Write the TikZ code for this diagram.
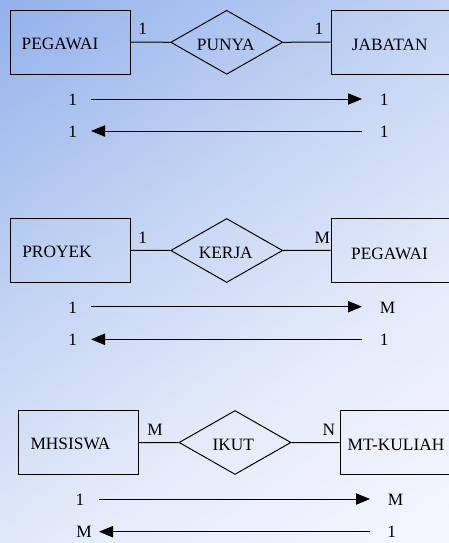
\documentclass[tikz,border=0pt]{standalone}
\usepackage{fontspec}
\setmainfont{Liberation Serif}
\usetikzlibrary{shapes.geometric,arrows.meta}

% background gradient, dark blue at the top left to almost white at the bottom right
\definecolor{bgA}{HTML}{92B1EB}
\definecolor{bgB}{HTML}{C2D3F3}
\definecolor{bgC}{HTML}{E0E8F9}
\definecolor{bgD}{HTML}{E6EDFB}
\definecolor{bgE}{HTML}{F4F7FD}
\pgfdeclareverticalshading{bgshade}{100bp}{color(0bp)=(bgE); color(25bp)=(bgE);
  color(39.19bp)=(bgD); color(43.32bp)=(bgC); color(56.67bp)=(bgB);
  color(75bp)=(bgA); color(100bp)=(bgA)}

\tikzset{
  entity/.style={draw, line width=0.75pt, rectangle, minimum width=90pt,
    minimum height=48pt, inner sep=0pt},
  relation/.style={draw, line width=0.75pt, diamond, minimum width=84pt,
    minimum height=48pt, inner sep=0pt},
  lbl/.style={font=\fontsize{13}{15}\selectfont, inner sep=0pt, anchor=base},
  link/.style={line width=0.75pt},
  card/.style={link, -{Triangle[length=10.5pt,width=8.5pt]}}
}

\begin{document}
\begin{tikzpicture}[x=0.75pt,y=-0.75pt]
\useasboundingbox (0,0) rectangle (449,543);
\begin{scope}
  \clip (0,0) rectangle (449,543);
  \begin{scope}[transform canvas={rotate=35}]
    \shade[shading=bgshade] (-320,0) rectangle (380,702.3);
  \end{scope}

  % ---------- PEGAWAI - PUNYA - JABATAN ----------
  \node[entity] (peg1) at (70,42) {};
  \node[relation] (punya) at (226.7,42.3) {};
  \node[entity] (jab) at (391,42) {};
  \draw[link] (peg1.east) -- (punya.west);
  \draw[link] (punya.east) -- (jab.west);
  \node[lbl] (peg1t) at (60,49.3) {PEGAWAI};
  \node[lbl] (punyat) at (225.8,50) {PUNYA};
  \node[lbl] (jabt) at (389.7,50) {JABATAN};
  \node[lbl] (c1a) at (142.7,34) {1};
  \node[lbl] (c1b) at (319,34) {1};
  \node[lbl] (r1a) at (72.7,105.7) {1};
  \node[lbl] (r1b) at (384.3,105.7) {1};
  \node[lbl] (r2a) at (72.7,137.7) {1};
  \node[lbl] (r2b) at (384.3,137.7) {1};
  \coordinate (a1s) at (91,99);
  \coordinate (a1e) at (362,99);
  \coordinate (a2s) at (362,131);
  \coordinate (a2e) at (91,131);
  \draw[card] (a1s) -- (a1e);
  \draw[card] (a2s) -- (a2e);

  % ---------- PROYEK - KERJA - PEGAWAI ----------
  \node[entity] (proy) at (70,250.3) {};
  \node[relation] (kerja) at (226.7,250.5) {};
  \node[entity] (peg2) at (391,250.3) {};
  \draw[link] (proy.east) -- (kerja.west);
  \draw[link] (kerja.east) -- (peg2.west);
  \node[lbl] (proyt) at (57,257.3) {PROYEK};
  \node[lbl] (kerjat) at (225.8,258) {KERJA};
  \node[lbl] (peg2t) at (389.5,259.3) {PEGAWAI};
  \node[lbl] (c2a) at (142.7,243.3) {1};
  \node[lbl] (c2b) at (322.3,243.3) {M};
  \node[lbl] (r3a) at (72.7,313.3) {1};
  \node[lbl] (r3b) at (387.7,313.3) {M};
  \node[lbl] (r4a) at (72.7,345.7) {1};
  \node[lbl] (r4b) at (384.3,345.7) {1};
  \coordinate (a3s) at (91,306.7);
  \coordinate (a3e) at (362,306.7);
  \coordinate (a4s) at (362,339.3);
  \coordinate (a4e) at (91,339.3);
  \draw[card] (a3s) -- (a3e);
  \draw[card] (a4s) -- (a4e);

  % ---------- MHSISWA - IKUT - MT-KULIAH ----------
  \node[entity] (mhs) at (78.5,442.7) {};
  \node[relation] (ikut) at (235,442.5) {};
  \node[entity] (mtk) at (400,442.7) {};
  \draw[link] (mhs.east) -- (ikut.west);
  \draw[link] (ikut.east) -- (mtk.west);
  \node[lbl] (mhst) at (70.5,449.3) {MHSISWA};
  \node[lbl] (ikutt) at (233.3,450.7) {IKUT};
  \node[lbl] (mtkt) at (396,450.7) {MT-KULIAH};
  \node[lbl] (c3a) at (155,435.3) {M};
  \node[lbl] (c3b) at (329,435.3) {N};
  \node[lbl] (r5a) at (80,505.7) {1};
  \node[lbl] (r5b) at (395.7,505.7) {M};
  \node[lbl] (r6a) at (84,537.7) {M};
  \node[lbl] (r6b) at (391.7,537.7) {1};
  \coordinate (a5s) at (99,499);
  \coordinate (a5e) at (370,499);
  \coordinate (a6s) at (370,531.7);
  \coordinate (a6e) at (99,531.7);
  \draw[card] (a5s) -- (a5e);
  \draw[card] (a6s) -- (a6e);
\end{scope}
\end{tikzpicture}
\end{document}
